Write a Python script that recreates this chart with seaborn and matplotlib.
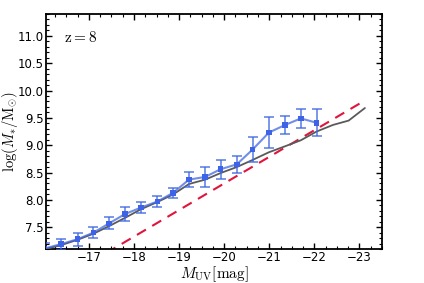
import matplotlib
matplotlib.use("Agg")
import matplotlib.pyplot as plt
from matplotlib.ticker import MultipleLocator
import pandas as pd
import seaborn as sns

sns.set_style("ticks")
plt.rcParams['font.family'] = ['DejaVu Sans']
plt.rcParams['mathtext.fontset'] = 'cm'
plt.rcParams['text.color'] = 'black'
plt.rcParams['axes.labelcolor'] = 'black'
plt.rcParams['xtick.color'] = 'black'
plt.rcParams['ytick.color'] = 'black'
plt.rcParams['axes.edgecolor'] = 'black'

# binned points (blue, with errors)
muv_bins = [-16.02, -16.38, -16.75, -17.10, -17.45, -17.80, -18.16, -18.52, -18.87,
            -19.22, -19.58, -19.92, -20.28, -20.63, -20.99, -21.35, -21.70, -22.05]
logms_bins = [7.11, 7.19, 7.28, 7.40, 7.57, 7.74, 7.86, 7.97, 8.13,
              8.37, 8.42, 8.56, 8.65, 8.92, 9.23, 9.37, 9.49, 9.41]
logms_err = [0.10, 0.10, 0.12, 0.10, 0.11, 0.12, 0.10, 0.10, 0.09,
             0.14, 0.18, 0.17, 0.16, 0.23, 0.28, 0.16, 0.18, 0.25]

# gray relation
muv_gray = [-16.03, -16.38, -16.75, -17.10, -17.45, -17.80, -18.16, -18.52, -18.87, -19.22,
            -19.58, -19.92, -20.28, -20.63, -20.99, -21.35, -21.70, -22.05, -22.41, -22.76, -23.12]
logms_gray = [7.10, 7.17, 7.27, 7.38, 7.52, 7.67, 7.83, 7.96, 8.10, 8.29,
              8.37, 8.49, 8.60, 8.73, 8.87, 8.98, 9.09, 9.25, 9.37, 9.45, 9.68]

# red dashed relation
muv_red = [-17.0, -23.0]
logms_red = [6.84, 9.76]

fig = plt.figure(figsize=(4.24, 2.83), dpi=100)
ax = fig.add_axes([0.1085, 0.12, 0.7925, 0.8305])

sns.lineplot(x=muv_red, y=logms_red, ax=ax, color='#e0143c', lw=1.5,
             dashes=False, linestyle=(0, (5, 3.5)), zorder=2)
sns.lineplot(x=muv_gray, y=logms_gray, ax=ax, color='#5a5a5a', lw=1.3, zorder=3)

df = pd.DataFrame({'muv': muv_bins, 'logms': logms_bins, 'err': logms_err})
ax.errorbar(df['muv'], df['logms'], yerr=df['err'], color='#4169e1', alpha=0.75,
            lw=1.5, capsize=3.5, capthick=1.3, elinewidth=1.3, zorder=4)
sns.scatterplot(data=df, x='muv', y='logms', ax=ax, marker='s', s=16,
                color='#3f63e6', edgecolor='none', zorder=5)

ax.set_xlim(-16.05, -23.5)
ax.set_ylim(7.1, 11.4)
ax.xaxis.set_major_locator(MultipleLocator(1))
ax.xaxis.set_minor_locator(MultipleLocator(0.25))
ax.yaxis.set_major_locator(MultipleLocator(0.5))
ax.yaxis.set_minor_locator(MultipleLocator(0.1))
ax.tick_params(which='both', direction='in', top=True, right=True, labelsize=8.5, pad=1.5)
ax.tick_params(which='major', length=4, width=1)
ax.tick_params(which='minor', length=2, width=0.8)
for s in ax.spines.values():
    s.set_linewidth(1.3)

ax.set_xlabel(r'$M_{\rm UV}[\rm mag]$', fontsize=11, labelpad=0)
ax.set_ylabel(r'$\log(M_{*}/\rm M_{\odot})$', fontsize=10.5)
ax.yaxis.set_label_coords(-0.077, 0.5)
ax.text(0.055, 0.9, r'$\rm z=8$', transform=ax.transAxes, fontsize=11, va='center')

fig.savefig('out.png', dpi=100)
